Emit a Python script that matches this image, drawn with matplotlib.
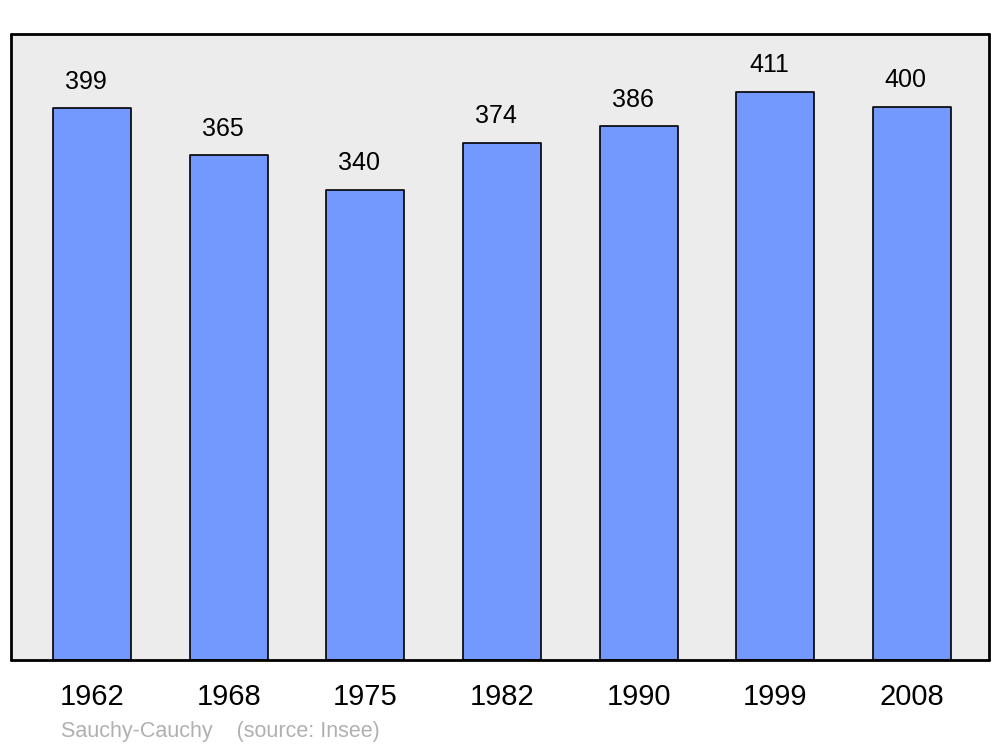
import matplotlib
matplotlib.use("Agg")
import matplotlib.pyplot as plt

years = ["1962", "1968", "1975", "1982", "1990", "1999", "2008"]
population = [399, 365, 340, 374, 386, 411, 400]

plt.rcParams['font.family'] = ['Liberation Sans', 'DejaVu Sans']

fig = plt.figure(figsize=(10, 7.47), dpi=100)
ax = fig.add_axes([0.011, 1 - 660 / 747, 0.978, 626 / 747])
ax.set_facecolor('#ececec')

x = list(range(len(years)))
bars = ax.bar(x, population, width=0.57, color='#7399ff', edgecolor='black',
              linewidth=1.2, zorder=2)
for b in bars:
    b.set_joinstyle('round')

for xi, v in zip(x, population):
    ax.annotate(str(v), (xi, v), xytext=(-4.5, 19), textcoords='offset points',
                ha='center', va='center', fontsize=18)

ax.set_xlim(-0.593, 6.563)
ax.set_ylim(0, 452.6)
ax.set_yticks([])
ax.set_xticks(x)
ax.set_xticklabels(years, fontsize=21)
ax.tick_params(axis='x', length=0, pad=16.5)
for lbl in ax.get_xticklabels():
    lbl.set_x(lbl.get_position()[0])
for s in ax.spines.values():
    s.set_linewidth(2)
    s.set_joinstyle('round')
    s.set_capstyle('round')

fig.text(0.061, 1 - 731.5 / 747, "Sauchy-Cauchy    (source: Insee)", color='#b0b0b0',
         fontsize=15.5, va='center', ha='left')

fig.savefig("out.png", dpi=100)
